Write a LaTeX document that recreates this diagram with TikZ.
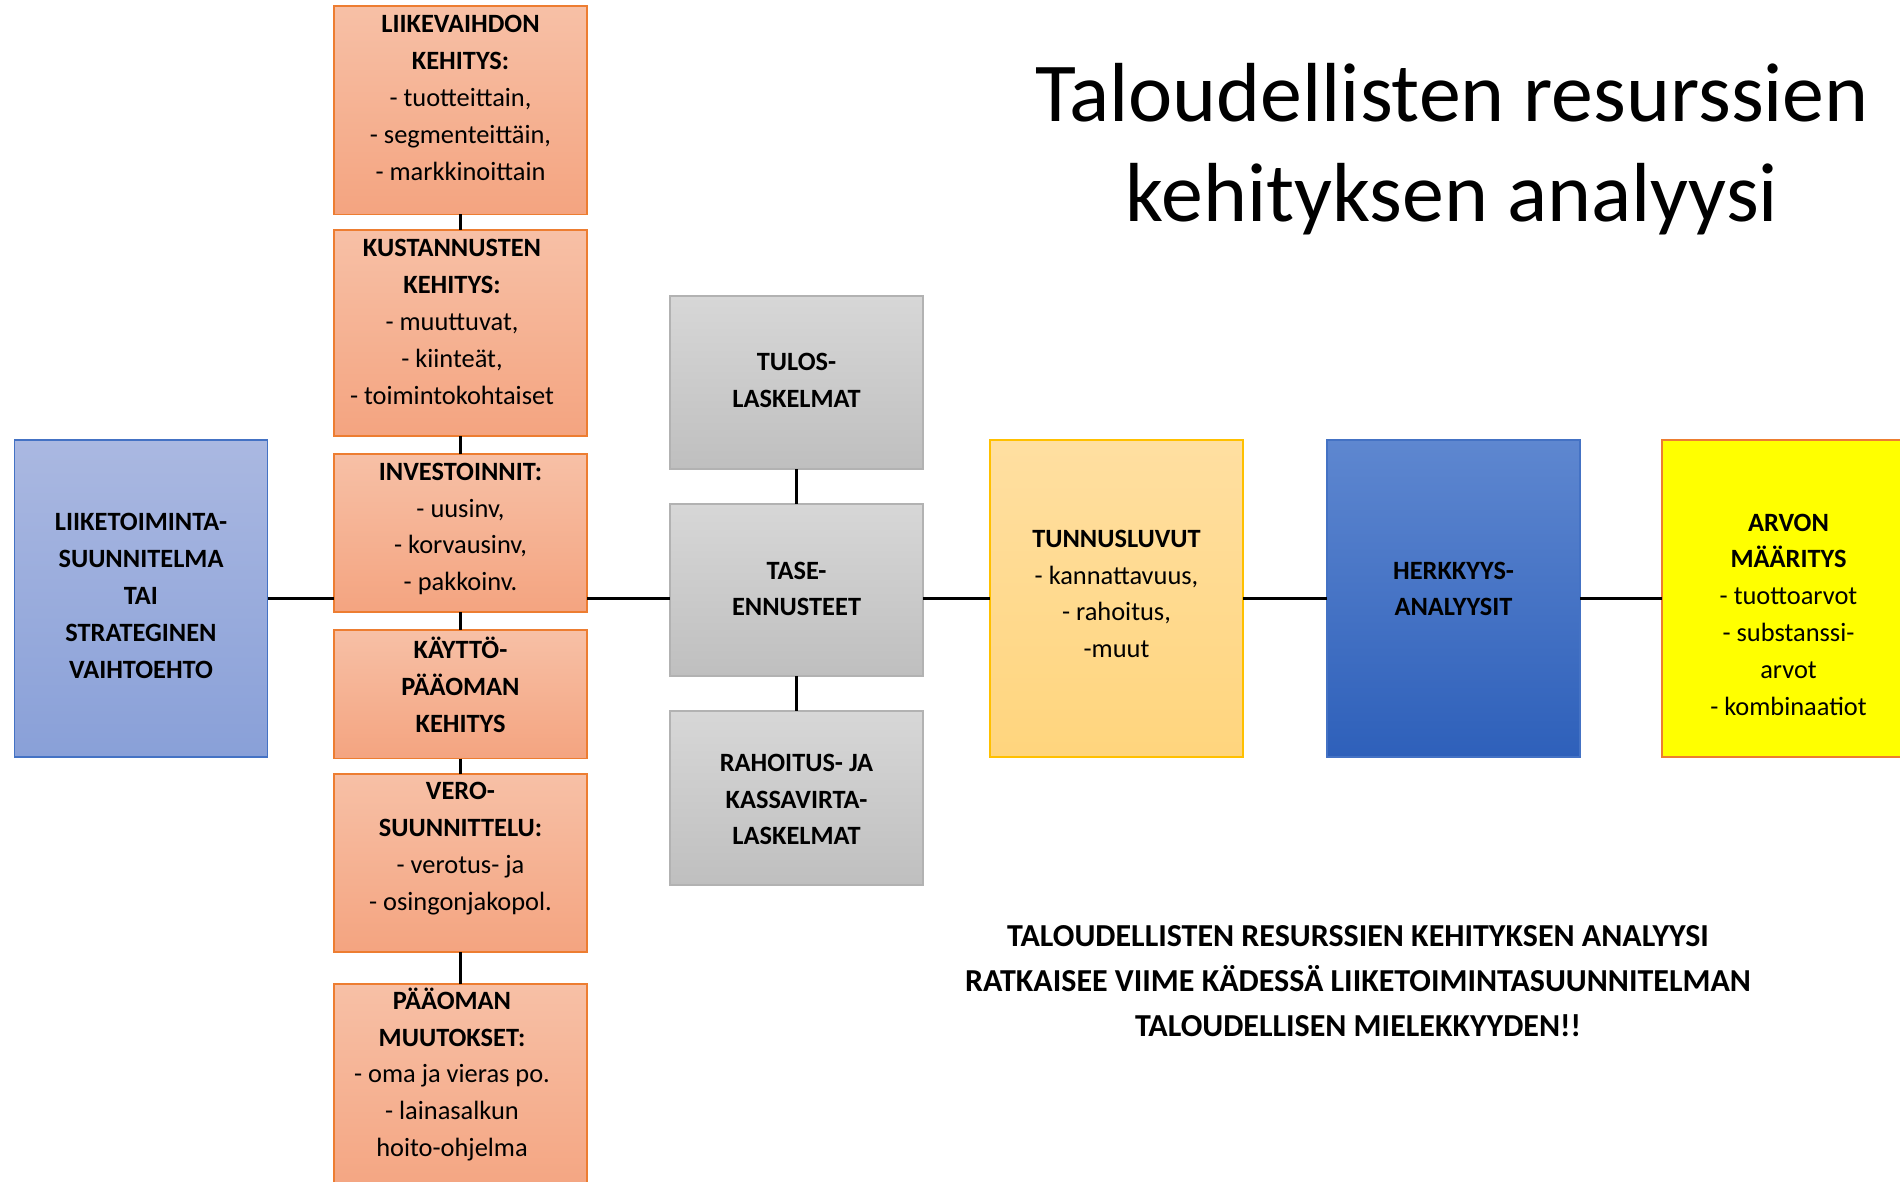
\documentclass[tikz,border=0pt]{standalone}
\usepackage{fontspec}
\setmainfont{Carlito}

% box colours
\definecolor{ortop}{RGB}{247,192,166}
\definecolor{orbot}{RGB}{244,164,128}
\definecolor{orline}{RGB}{237,125,49}
\definecolor{bltop}{RGB}{170,184,225}
\definecolor{blbot}{RGB}{137,160,216}
\definecolor{blline}{RGB}{68,114,196}
\definecolor{grtop}{RGB}{215,215,215}
\definecolor{grbot}{RGB}{191,191,191}
\definecolor{grline}{RGB}{178,178,178}
\definecolor{gotop}{RGB}{255,223,161}
\definecolor{gobot}{RGB}{255,213,125}
\definecolor{goline}{RGB}{255,192,0}
\definecolor{dbtop}{RGB}{94,135,208}
\definecolor{dbbot}{RGB}{46,96,186}
\definecolor{yel}{RGB}{255,255,0}

\tikzset{
  box/.style={rectangle, inner sep=0pt, outer sep=0pt, line width=0.6pt},
  obox/.style={box, draw=orline, top color=ortop, bottom color=orbot, minimum width=126.5pt},
  gbox/.style={box, draw=grline, top color=grtop, bottom color=grbot, minimum width=126.5pt},
  tall/.style={minimum width=126.5pt, minimum height=158.5pt},
  txt/.style={align=center, inner sep=0pt, font=\fontsize{13.2}{18.4}\selectfont},
  link/.style={line width=1.2pt, black},
}

\begin{document}
\begin{tikzpicture}[x=0.5pt, y=-0.5pt]
\useasboundingbox (0,0) rectangle (1900,1182);
\clip (0,0) rectangle (1900,1182);
\fill[white] (0,0) rectangle (1900,1182);

% starting point
\node[box, tall, draw=blline, top color=bltop, bottom color=blbot] (plan) at (141.25,598.5) {};

% cost and revenue drivers
\node[obox, minimum height=104.25pt] (liike) at (460.5,110.25) {};
\node[obox, minimum height=103pt]    (kust)  at (460.5,333) {};
\node[obox, minimum height=79pt]     (inv)   at (460.5,533) {};
\node[obox, minimum height=64.25pt]  (kayt)  at (460.5,694.25) {};
\node[obox, minimum height=89pt]     (vero)  at (460.5,863) {};
\node[obox, minimum height=108pt]    (paao)  at (460.5,1092) {};

% statements
\node[gbox, minimum height=86.5pt] (tulos) at (796.5,382.5) {};
\node[gbox, minimum height=86pt]   (tase)  at (796.5,590) {};
\node[gbox, minimum height=87pt]   (rahoi) at (796.5,798) {};

% analysis chain
\node[box, tall, draw=goline, top color=gotop, bottom color=gobot] (tunn) at (1116.5,598.5) {};
\node[box, tall, draw=blline, top color=dbtop, bottom color=dbbot] (herk) at (1453.5,598.5) {};
\node[box, tall, draw=orline, fill=yel] (arvo) at (1788.5,598.5) {};

% connectors
\draw[link] (liike.south) -- (kust.north);
\draw[link] (kust.south) -- (inv.north);
\draw[link] (inv.south) -- (kayt.north);
\draw[link] (kayt.south) -- (vero.north);
\draw[link] (vero.south) -- (paao.north);
\draw[link] (tulos.south) -- (tase.north);
\draw[link] (tase.south) -- (rahoi.north);
\draw[link] (plan.east) -- (plan.east -| inv.west);
\draw[link] (plan.east -| inv.east) -- (plan.east -| tase.west);
\draw[link] (plan.east -| tase.east) -- (tunn.west);
\draw[link] (tunn.east) -- (herk.west);
\draw[link] (herk.east) -- (arvo.west);

% box texts
\node[txt] (plant) at (141,596) {\textbf{LIIKETOIMINTA-}\\\textbf{SUUNNITELMA}\\\textbf{TAI}\\\textbf{STRATEGINEN}\\\textbf{VAIHTOEHTO}};
\node[txt] (liiket) at (460.5,98) {\textbf{LIIKEVAIHDON}\\\textbf{KEHITYS:}\\- tuotteittain,\\- segmenteittäin,\\- markkinoittain};
\node[txt] (kustt) at (452,322) {\textbf{KUSTANNUSTEN}\\\textbf{KEHITYS:}\\- muuttuvat,\\- kiinteät,\\- toimintokohtaiset};
\node[txt] (invt) at (460.5,529) {\textbf{INVESTOINNIT:}\\- uusinv,\\- korvausinv,\\- pakkoinv.};
\node[txt] (kaytt) at (460.5,685) {\textbf{KÄYTTÖ-}\\\textbf{PÄÄOMAN}\\\textbf{KEHITYS}};
\node[txt] (verot) at (460.5,848.5) {\textbf{VERO-}\\\textbf{SUUNNITTELU:}\\- verotus- ja\\- osingonjakopol.};
\node[txt] (paaot) at (452,1074.5) {\textbf{PÄÄOMAN}\\\textbf{MUUTOKSET:}\\- oma ja vieras po.\\- lainasalkun\\hoito-ohjelma};
\node[txt] (tulost) at (796.5,380.5) {\textbf{TULOS-}\\\textbf{LASKELMAT}};
\node[txt] (taset) at (796.5,589) {\textbf{TASE-}\\\textbf{ENNUSTEET}};
\node[txt] (rahoit) at (796.5,799.5) {\textbf{RAHOITUS- JA}\\\textbf{KASSAVIRTA-}\\\textbf{LASKELMAT}};
\node[txt] (tunnt) at (1116.5,594) {\textbf{TUNNUSLUVUT}\\- kannattavuus,\\- rahoitus,\\-muut};
\node[txt] (herkt) at (1453.5,589) {\textbf{HERKKYYS-}\\\textbf{ANALYYSIT}};
\node[txt] (arvot) at (1788.5,614.5) {\textbf{ARVON}\\\textbf{MÄÄRITYS}\\- tuottoarvot\\- substanssi-\\arvot\\- kombinaatiot};

% heading
\node[anchor=base, inner sep=0pt, font=\fontsize{41.9}{49.7}\selectfont] (title1) at (1452,122) {Taloudellisten resurssien};
\node[anchor=base, inner sep=0pt, font=\fontsize{41.9}{49.7}\selectfont] (title2) at (1452,222) {kehityksen analyysi};

% closing statement
\node[align=center, inner sep=0pt, font=\bfseries\fontsize{16}{22.4}\selectfont] (note) at (1358,981)
  {TALOUDELLISTEN RESURSSIEN KEHITYKSEN ANALYYSI\\RATKAISEE VIIME KÄDESSÄ LIIKETOIMINTASUUNNITELMAN\\TALOUDELLISEN MIELEKKYYDEN!!};
\end{tikzpicture}
\end{document}
